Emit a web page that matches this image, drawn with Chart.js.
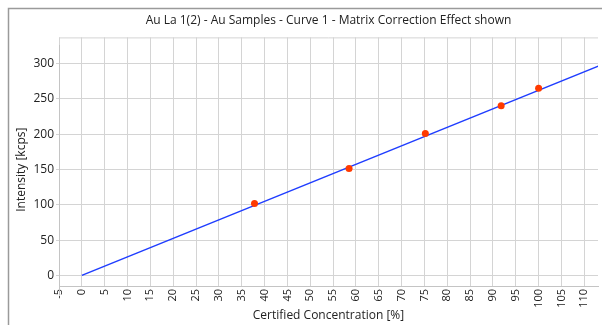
<!DOCTYPE html>
<html>
<head>
<meta charset="utf-8">
<script src="https://cdn.jsdelivr.net/npm/chart.js@4/dist/chart.umd.min.js"></script>
<style>
  html, body { margin: 0; padding: 0; background: #fff; overflow: hidden; }
  #chart { display: block; }
</style>
</head>
<body>
<canvas id="chart" width="602" height="325"></canvas>
<script>
/* Au La 1(2) calibration curve */
const titleText   = 'Au La 1(2) - Au Samples - Curve 1 - Matrix Correction Effect shown';
const xTitle      = 'Certified Concentration [%]';
const yTitle      = 'Intensity [kcps]';

// tick labels
const xTicks = [-5, 0, 5, 10, 15, 20, 25, 30, 35, 40, 45, 50, 55, 60, 65, 70, 75, 80, 85, 90, 95, 100, 105, 110];
const yTicks = [0, 50, 100, 150, 200, 250, 300];

// measured samples
const concentration = [37.8, 58.5, 75.2, 91.8, 100.0];
const intensity     = [101.8, 151.5, 200.9, 240.3, 264.9];

// calibration line (start / end)
const fitConc      = [0, 120];
const fitIntensity = [0, 314.4];

const FONT = "'Open Sans', 'DejaVu Sans', sans-serif";
const GRID = '#d4d4d4';

const frame = {
  id: 'frame',
  afterLayout(chart) {
    // title centred over the plot area
    const t = chart.titleBlock;
    t.left = chart.chartArea.left;
    t.right = chart.chartArea.right;
    t.width = t.right - t.left;
    // y axis title sits a little lower than the plot centre
    chart.scales.y.top += 8;
    chart.scales.y.bottom += 8;
  },
  beforeDraw(chart) {
    const ctx = chart.ctx;
    ctx.save();
    ctx.strokeStyle = '#9a9a9a';
    ctx.lineWidth = 1.5;
    ctx.strokeRect(8.5, 8.5, 700, 400);
    ctx.restore();
  },
  beforeDatasetsDraw(chart) {
    const { ctx, chartArea: a } = chart;
    ctx.save();
    ctx.strokeStyle = GRID;
    ctx.lineWidth = 1;
    ctx.beginPath();
    ctx.moveTo(a.left, a.top + 0.5);
    ctx.lineTo(a.right, a.top + 0.5);
    ctx.stroke();
    ctx.restore();
  }
};

new Chart(document.getElementById('chart'), {
  type: 'scatter',
  data: {
    datasets: [
      {
        label: 'Samples',
        data: concentration.map((c, i) => ({ x: c, y: intensity[i] })),
        backgroundColor: '#ff3a00',
        borderColor: '#ff3a00',
        pointRadius: 3.5,
        pointBorderWidth: 0,
      },
      {
        label: 'Curve 1',
        data: fitConc.map((c, i) => ({ x: c, y: fitIntensity[i] })),
        showLine: true,
        borderColor: '#1f3dff',
        borderWidth: 1.5,
        pointRadius: 0,
      },
    ],
  },
  options: {
    responsive: false,
    animation: false,
    layout: { padding: 0 },
    plugins: {
      legend: { display: false },
      tooltip: { enabled: false },
      title: {
        display: true,
        text: titleText,
        color: '#222',
        font: { family: FONT, size: 12, weight: 'normal' },
        padding: { top: 13, bottom: 10 },
      },
    },
    scales: {
      x: {
        type: 'linear',
        min: -5,
        max: 113,
        afterBuildTicks: s => { s.ticks = xTicks.map(v => ({ value: v })); },
        afterFit: s => { s.height = 39; },
        grid:  { color: GRID, drawTicks: false },
        border:{ color: '#c4c4c4' },
        ticks: {
          minRotation: 90,
          maxRotation: 90,
          autoSkip: false,
          padding: 3,
          color: '#222',
          font: { family: FONT, size: 11 },
        },
        title: {
          display: true,
          text: xTitle,
          color: '#222',
          font: { family: FONT, size: 12 },
          padding: { top: 0, bottom: 2 },
        },
      },
      y: {
        min: -15,
        max: 337,
        afterBuildTicks: s => { s.ticks = yTicks.map(v => ({ value: v })); },
        afterFit: s => { s.width = 59; },
        grid:  { color: GRID, tickLength: 3 },
        border:{ color: '#c4c4c4' },
        ticks: {
          padding: 2,
          color: '#222',
          font: { family: FONT, size: 12 },
        },
        title: {
          display: true,
          text: yTitle,
          color: '#222',
          font: { family: FONT, size: 12 },
          padding: { top: 14, bottom: 0 },
        },
      },
    },
  },
  plugins: [frame],
});
</script>
</body>
</html>
